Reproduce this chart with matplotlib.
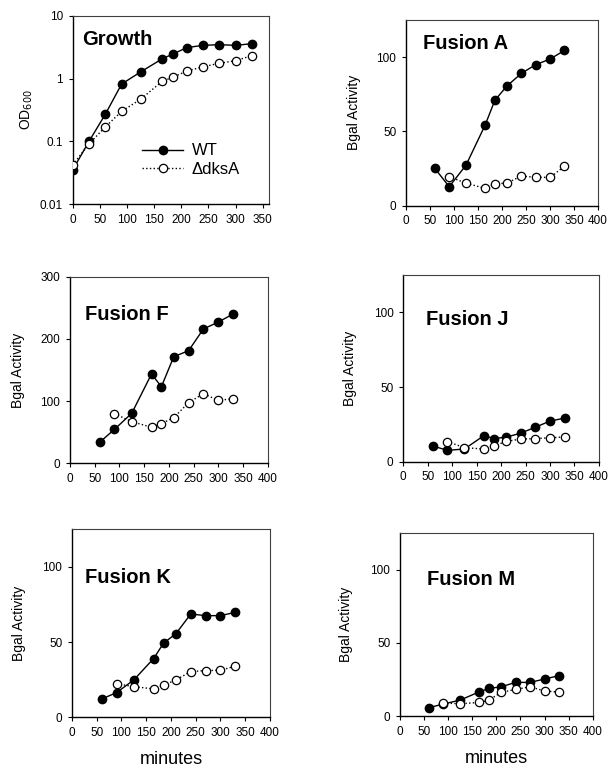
import matplotlib
matplotlib.use("Agg")
import matplotlib.pyplot as plt
from matplotlib import ticker

plt.rcParams["font.family"] = ["Liberation Sans", "DejaVu Sans"]

# Data

growth_t = [0, 30, 60, 90, 125, 165, 185, 210, 240, 270, 300, 330]
growth_wt = [0.035, 0.10, 0.27, 0.82, 1.28, 2.08, 2.48, 3.13, 3.40, 3.49, 3.40, 3.62]
growth_dks = [0.042, 0.091, 0.17, 0.30, 0.47, 0.91, 1.06, 1.32, 1.55, 1.76, 1.94, 2.33]

wt_t = [60, 90, 125, 165, 185, 210, 240, 270, 300, 330]
dks_t = [90, 125, 165, 185, 210, 240, 270, 300, 330]

fusion_a_wt = [25.1, 12.8, 27.3, 54.4, 70.9, 80.5, 89.0, 94.9, 98.7, 104.5]
fusion_a_dks = [19.5, 15.2, 11.6, 14.8, 15.2, 19.9, 19.2, 19.0, 26.6]

fusion_f_wt = [33.8, 54.6, 80.4, 143.6, 123.2, 171.4, 181.0, 216.0, 227.0, 240.0]
fusion_f_dks = [79.8, 67.0, 57.9, 63.8, 73.4, 97.5, 112.0, 101.0, 104.0]

fusion_j_wt = [10.6, 7.6, 8.5, 17.5, 15.5, 16.4, 19.1, 23.1, 27.2, 29.2]
fusion_j_dks = [13.5, 9.4, 8.5, 10.3, 13.7, 15.1, 15.5, 16.0, 16.6]

fusion_k_wt = [12.2, 16.4, 24.9, 39.1, 49.3, 55.6, 68.7, 67.6, 67.6, 69.8]
fusion_k_dks = [22.4, 20.4, 18.9, 21.3, 24.9, 30.4, 31.1, 31.3, 34.0]

fusion_m_wt = [5.7, 8.2, 10.9, 16.6, 18.9, 20.0, 23.0, 23.0, 25.3, 27.6]
fusion_m_dks = [8.9, 8.4, 9.3, 10.9, 16.2, 18.2, 20.0, 17.1, 16.4]


def style_axes(ax):
    for side in ["left", "bottom"]:
        ax.spines[side].set_linewidth(1.0)
        ax.spines[side].set_color("black")
    for side in ["top", "right"]:
        ax.spines[side].set_linewidth(0.8)
        ax.spines[side].set_color("0.25")
    ax.tick_params(direction="out", length=3, width=0.8, labelsize=8.5,
                   pad=4, top=False, right=False)


def draw_series(ax, tw, yw, td, yd):
    ax.plot(tw, yw, "-", color="black", lw=1.0, marker="o", ms=6,
            mfc="black", mec="black", label="WT", zorder=3)
    ax.plot(td, yd, ":", color="black", lw=1.0, marker="o", ms=6,
            mfc="white", mec="black", mew=0.9, label="\u0394dksA", zorder=4)


def fusion_panel(fig, rect, name, yw, yd, ymax, yticks, tx, ty, lx,
                 minutes_y=None):
    ax = fig.add_axes(rect)
    draw_series(ax, wt_t, yw, dks_t, yd)
    ax.set_xlim(0, 400)
    ax.set_ylim(0, ymax)
    ax.set_xticks(range(0, 401, 50))
    ax.set_yticks(yticks)
    ax.set_ylabel("Bgal Activity", fontsize=10)
    ax.yaxis.set_label_coords(lx, 0.5)
    ax.text(tx, ty, name, transform=ax.transAxes, fontsize=14.5,
            fontweight="bold", va="top", ha="left")
    if minutes_y is not None:
        ax.set_xlabel("minutes", fontsize=13)
        ax.xaxis.set_label_coords(0.5, minutes_y)
    style_axes(ax)
    return ax


fig = plt.figure(figsize=(6.09, 7.69), dpi=100)

# Growth panel
ax = fig.add_axes([0.1194, 0.7347, 0.3228, 0.2445])
draw_series(ax, growth_t, growth_wt, growth_t, growth_dks)
ax.set_yscale("log")
ax.set_ylim(0.01, 10)
ax.set_xlim(0, 362)
ax.set_xticks(range(0, 351, 50))
ax.set_yticks([0.01, 0.1, 1, 10])
ax.yaxis.set_major_formatter(ticker.FixedFormatter(["0.01", "0.1", "1", "10"]))
ax.yaxis.set_minor_locator(ticker.NullLocator())
ax.set_ylabel("OD$_{600}$", fontsize=10)
ax.yaxis.set_label_coords(-0.19, 0.5)
ax.text(0.05, 0.925, "Growth", transform=ax.transAxes, fontsize=14.5,
        fontweight="bold", va="top", ha="left")
ax.legend(loc="upper left", bbox_to_anchor=(0.351, 0.322), frameon=False,
          fontsize=12, handlelength=2.5, handletextpad=0.5, borderpad=0,
          borderaxespad=0, labelspacing=0.2)
style_axes(ax)

fusion_panel(fig, [0.6667, 0.7325, 0.3153, 0.2415], "Fusion A",
             fusion_a_wt, fusion_a_dks, 125, [0, 50, 100], 0.09, 0.925, -0.234)
fusion_panel(fig, [0.1149, 0.3975, 0.3246, 0.2427], "Fusion F",
             fusion_f_wt, fusion_f_dks, 300, [0, 100, 200, 300], 0.076, 0.85,
             -0.229)
fusion_panel(fig, [0.6622, 0.3996, 0.3213, 0.2428], "Fusion J",
             fusion_j_wt, fusion_j_dks, 125, [0, 50, 100], 0.116, 0.815, -0.238)
fusion_panel(fig, [0.1182, 0.0672, 0.3251, 0.2445], "Fusion K",
             fusion_k_wt, fusion_k_dks, 125, [0, 50, 100], 0.066, 0.795, -0.234,
             minutes_y=-0.178)
fusion_panel(fig, [0.6568, 0.0689, 0.3164, 0.2376], "Fusion M",
             fusion_m_wt, fusion_m_dks, 125, [0, 50, 100], 0.139, 0.80, -0.245,
             minutes_y=-0.185)

fig.savefig("out.png", dpi=100)
plt.close(fig)
